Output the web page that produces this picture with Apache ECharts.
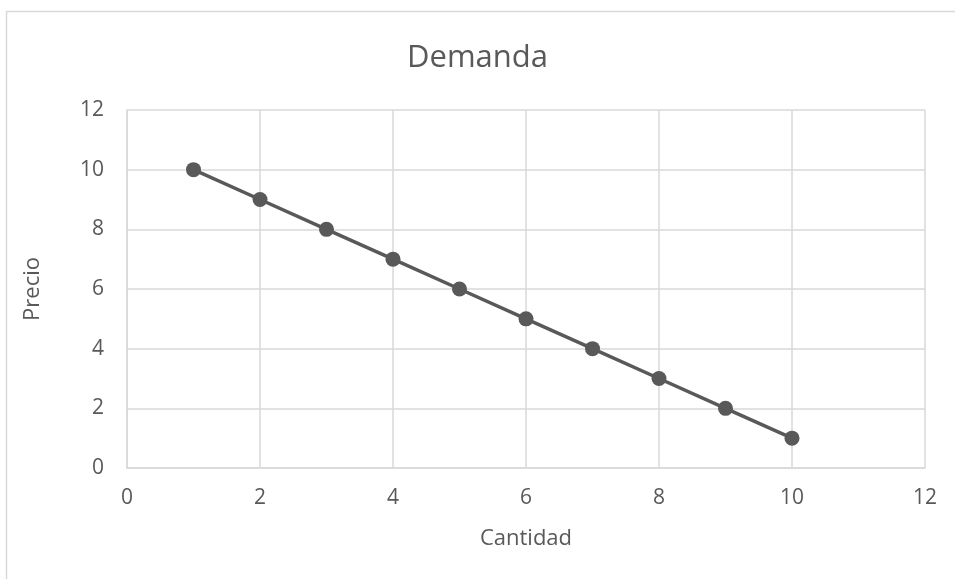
<!DOCTYPE html>
<html>
<head>
<meta charset="utf-8">
<script src="https://cdn.jsdelivr.net/npm/echarts@6/dist/echarts.min.js"></script>
<style>
  html, body { margin: 0; padding: 0; background: #fff; }
  #chart { width: 955px; height: 579px; }
</style>
</head>
<body>
<div id="chart"></div>
<script>
const cantidad = [1, 2, 3, 4, 5, 6, 7, 8, 9, 10];
const precio = [10, 9, 8, 7, 6, 5, 4, 3, 2, 1];

const FONT = '"Open Sans", sans-serif';
const TEXT = '#595959';
const GRID = '#d9d9d9';

const chart = echarts.init(document.getElementById('chart'), null, { renderer: 'canvas' });

chart.setOption({
  animation: false,
  graphic: [
    {
      type: 'rect',
      shape: { x: 6.5, y: 11.5, width: 1000, height: 1000 },
      style: { fill: 'none', stroke: GRID, lineWidth: 1.5 }
    },
    {
      // sheet label cut off by the top edge
      type: 'text',
      x: 4, y: -16,
      style: { text: 'Gráfico', fill: '#404040', font: 'bold 20px ' + FONT }
    }
  ],
  title: {
    text: 'Demanda',
    left: 'center',
    top: 38,
    textStyle: { color: TEXT, fontSize: 31, fontWeight: 'normal', fontFamily: FONT }
  },
  grid: { left: 127, right: 30, top: 110, bottom: 111 },
  xAxis: {
    type: 'value',
    min: 0, max: 12, interval: 2,
    name: 'Cantidad',
    nameLocation: 'middle',
    nameGap: 60,
    nameTextStyle: { color: TEXT, fontSize: 22, fontFamily: FONT },
    axisLine: { show: true, lineStyle: { color: GRID, width: 1.5 } },
    axisTick: { show: false },
    axisLabel: { color: TEXT, fontSize: 21, fontFamily: FONT, margin: 20 },
    splitLine: { show: true, lineStyle: { color: GRID, width: 1.5 } }
  },
  yAxis: {
    type: 'value',
    min: 0, max: 12, interval: 2,
    name: 'Precio',
    nameLocation: 'middle',
    nameGap: 83,
    nameTextStyle: { color: TEXT, fontSize: 22, fontFamily: FONT },
    axisLine: { show: true, lineStyle: { color: GRID, width: 1.5 } },
    axisTick: { show: false },
    axisLabel: { color: TEXT, fontSize: 21, fontFamily: FONT, margin: 23 },
    splitLine: { show: true, lineStyle: { color: GRID, width: 1.5 } }
  },
  series: [
    {
      type: 'line',
      data: cantidad.map((c, i) => [c, precio[i]]),
      symbol: 'circle',
      symbolSize: 15,
      lineStyle: { color: '#595959', width: 3.5 },
      itemStyle: { color: '#595959' }
    }
  ]
});
</script>
</body>
</html>
